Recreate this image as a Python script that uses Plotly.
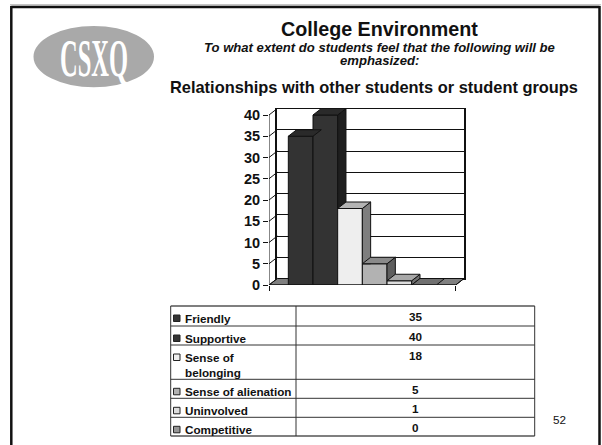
import plotly.graph_objects as go

W, H = 602, 445

categories = ["Friendly", "Supportive", "Sense of<br>belonging", "Sense of alienation", "Uninvolved", "Competitive"]
values = [35, 40, 18, 5, 1, 0]
y_ticks = [0, 5, 10, 15, 20, 25, 30, 35, 40]

front_colors = ["#333333", "#333333", "#eeeeee", "#b2b2b2", "#dddddd", "#969696"]
top_colors = ["#2a2a2a", "#2a2a2a", "#b4b4b4", "#8a8a8a", "#a8a8a8", "#707070"]
side_colors = ["#1e1e1e", "#1e1e1e", "#7e7e7e", "#5e5e5e", "#707070", "#505050"]

FONT = "Liberation Sans"
X0, X1, Y0, Y1 = 269.0, 455.7, 285.0, 115.0   # front plane, px
DX_PX, DY_PX = 8.3, 6.5                       # depth offset, px
BARGAP = 0.207
DX = DX_PX / (X1 - X0)
DY = DY_PX / ((Y0 - Y1) / 40)
BW = (1 - BARGAP) / len(values)


def px(x):
    return x / W


def py(y):
    return 1 - y / H


fig = go.Figure()

# Back wall: its own axes, shifted by the depth offset, with native grid lines
fig.update_layout(
    template="none",
    xaxis=dict(domain=[px(X0 + DX_PX), px(X1 + DX_PX)], range=[-0.5, 0.5], showticklabels=False,
               ticks="", showgrid=False, zeroline=False, showline=True, mirror=True, automargin=False,
               linecolor="#111111", linewidth=1),
    yaxis=dict(domain=[py(Y0 - DY_PX), py(Y1 - DY_PX)], range=[0, 40], tickvals=y_ticks,
               showticklabels=False, ticks="", showgrid=True, gridcolor="#111111", gridwidth=1, automargin=False,
               zeroline=False, showline=True, mirror=True, linecolor="#111111", linewidth=1.5),
    # Front plane: range reaches past the plane so the depth faces are not clipped
    xaxis2=dict(domain=[px(X0), px(X1 + DX_PX)], range=[-0.5, 0.5 + DX], tickvals=[-0.5, 0.5], ticktext=["", ""],
                ticks="outside", ticklen=5, tickcolor="#111111", showgrid=False, zeroline=False, automargin=False,
                showline=False, anchor="y2"),
    yaxis2=dict(domain=[py(Y0), py(Y1 - DY_PX)], range=[0, 40 + DY], tickvals=y_ticks, ticks="outside", ticklen=5,
                tickcolor="#111111", tickfont=dict(family=FONT, size=14.5, color="#111111", weight="bold"),
                showgrid=False, zeroline=False, showline=False, anchor="x2", automargin=False),
)

# A placeholder trace so that the back wall subplot exists
fig.add_trace(go.Scatter(x=[None], y=[None], xaxis="x", yaxis="y", showlegend=False, hoverinfo="skip"))

# Front faces
for name, v, c in zip(categories, values, front_colors):
    fig.add_trace(go.Bar(x=[0], y=[v], name=name.replace("<br>", " "), marker=dict(color=c, line=dict(color="#111111", width=1)),
                         xaxis="x2", yaxis="y2", showlegend=False))


def poly(xs, ys, fill):
    fig.add_trace(go.Scatter(x=xs + xs[:1], y=ys + ys[:1], mode="lines", fill="toself", fillcolor=fill,
                             line=dict(color="#111111", width=1), xaxis="x2", yaxis="y2",
                             cliponaxis=False, showlegend=False, hoverinfo="skip"))


# Left wall diagonals
for t in y_ticks:
    fig.add_trace(go.Scatter(x=[-0.5, -0.5 + DX], y=[t, t + DY], mode="lines",
                             line=dict(color="#111111", width=1), xaxis="x2", yaxis="y2",
                             cliponaxis=False, showlegend=False, hoverinfo="skip"))
fig.add_trace(go.Scatter(x=[0.5, 0.5 + DX], y=[0, DY], mode="lines", line=dict(color="#111111", width=1),
                         xaxis="x2", yaxis="y2", cliponaxis=False, showlegend=False, hoverinfo="skip"))

# Side and top faces, left to right
for i, v in enumerate(values):
    left = -0.5 + BARGAP / 2 + i * BW
    right = left + BW
    nxt = values[i + 1] if i + 1 < len(values) else 0
    if v > nxt:
        low = max(nxt, 0)
        poly([right, right + DX, right + DX, right], [v, v + DY, max(low, DY), low], side_colors[i])
    poly([left, left + DX, right + DX, right], [v, v + DY, v + DY, v], top_colors[i])

shapes = []
annotations = []


def txt(x, y, s, size, bold=True, italic=False, anchor="center", color="#111111", family=FONT):
    annotations.append(dict(x=px(x), y=py(y), xref="paper", yref="paper", text=s, showarrow=False,
                            xanchor=anchor, yanchor="middle", align=anchor, borderpad=0, borderwidth=0,
                            font=dict(family=family, size=size, color=color,
                                      weight="bold" if bold else "normal",
                                      style="italic" if italic else "normal")))


def line(x0, y0, x1, y1, color="#111111", width=1):
    shapes.append(dict(type="line", xref="paper", yref="paper", layer="below", x0=px(x0), y0=py(y0),
                       x1=px(x1), y1=py(y1), line=dict(color=color, width=width)))


# Floor
shapes.append(dict(type="path", xref="x2", yref="y2", layer="below",
                   path=f"M -0.5 0 L {-0.5 + DX} {DY} L {0.5 + DX} {DY} L 0.5 0 Z",
                   fillcolor="#808080", line=dict(color="#111111", width=1)))
# Front plane axis lines, which stop at the plane rather than at the extended range
for sx0, sy0, sx1, sy1 in [(-0.5, 0, -0.5, 40), (-0.5, 0, 0.5, 0)]:
    shapes.append(dict(type="line", xref="x2", yref="y2", layer="above", x0=sx0, y0=sy0, x1=sx1, y1=sy1,
                       line=dict(color="#111111", width=1)))

# Page frame
line(10, 4.7, 601, 4.7, "#c4c4c4", 1.5)
line(11.3, 7, 599.5, 7, "#111111", 2.5)
line(11.3, 6, 11.3, 450, "#111111", 2.5)
line(599.5, 6, 599.5, 450, "#111111", 2.5)

# Logo
shapes.append(dict(type="circle", xref="paper", yref="paper", layer="below", x0=px(33.5), x1=px(154),
                   y0=py(87.3), y1=py(26), fillcolor="#a9a9a9", line=dict(width=0)))
txt(94, 58, "CSXQ", 36, bold=True, color="white", family="Liberation Serif")

# Titles
txt(379, 29, "College Environment", 19.7)
txt(379, 48, "To what extent do students feel that the following will be", 13.1, italic=True)
txt(379, 60, "emphasized:", 13.1, italic=True)
txt(374, 87, "Relationships with other students or student groups", 16.4)
txt(559, 419, "52", 11.7, bold=False)

# Table
TL, TM, TR = 170.7, 296, 534.7
rows = [306, 326, 345, 379.3, 398.3, 417.3, 436]
for k, r in enumerate(rows):
    line(TL, r, TR, r, "#333333" if 0 < k < len(rows) - 1 else "#555555", 1 if 0 < k < len(rows) - 1 else 1.5)
for x in (TL, TM, TR):
    line(x, rows[0], x, rows[-1], "#333333", 1)
for k, (name, v, c) in enumerate(zip(categories, values, front_colors)):
    top = rows[k]
    shapes.append(dict(type="rect", xref="paper", yref="paper", layer="below", x0=px(173.5), x1=px(180),
                       y0=py(top + 15.5), y1=py(top + 9), fillcolor=c, line=dict(color="#222222", width=1)))
    for n, part in enumerate(name.split("<br>")):
        txt(185, top + 12 + n * 15.7, part, 11.7, anchor="left")
    txt(415.5, top + 10.5, str(v), 11.7)

fig.update_layout(
    width=W, height=H, margin=dict(l=0, r=0, t=0, b=0), autosize=False,
    paper_bgcolor="white", plot_bgcolor="rgba(0,0,0,0)", showlegend=False,
    barmode="group", bargap=BARGAP, bargroupgap=0,
    shapes=shapes, annotations=annotations,
)

post = """
document.documentElement.style.margin = '0';
document.body.style.margin = '0';
document.body.style.overflow = 'hidden';
document.querySelectorAll('.annotation-text').forEach(function (t) {
  if (t.textContent === 'CSXQ') {
    var b = t.getBBox(), cx = b.x + b.width / 2, cy = b.y + b.height / 2;
    t.setAttribute('transform', 'translate(' + cx + ',' + cy + ') scale(0.68,1.47) translate(' + (-cx) + ',' + (-cy) + ')');
  }
});
"""
fig.write_html("out.html", post_script=post, config={"displayModeBar": False})
